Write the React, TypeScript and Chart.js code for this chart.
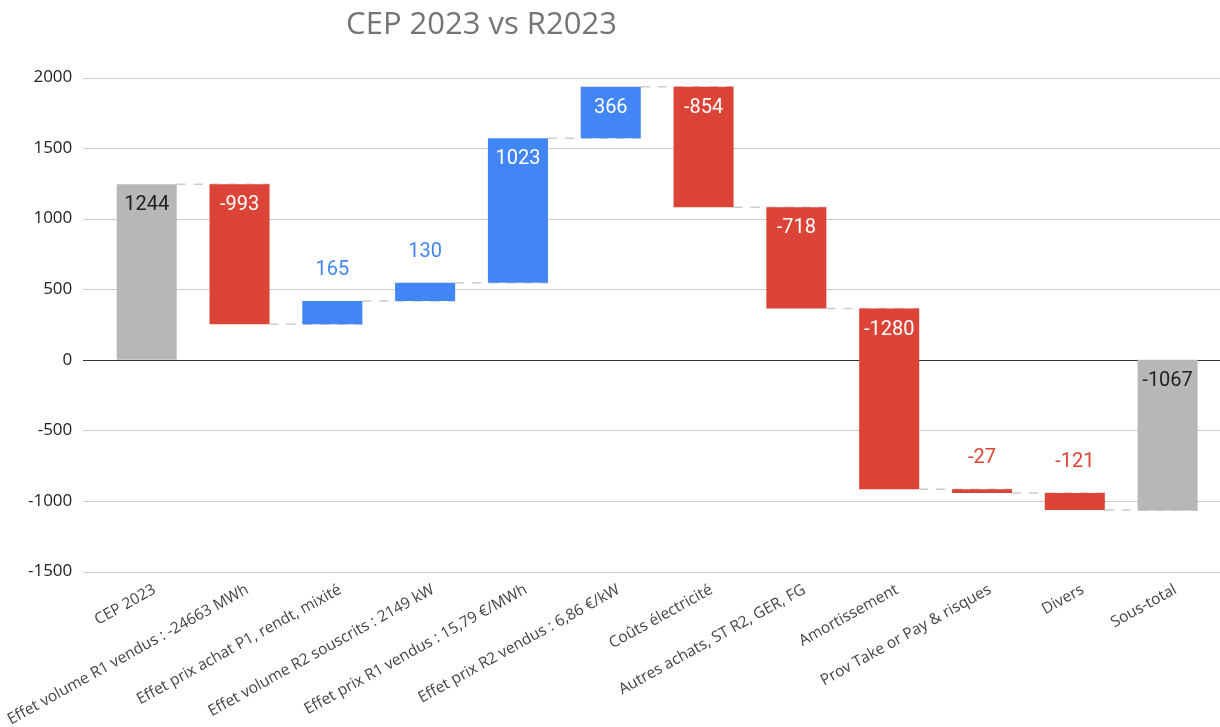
import React, { useEffect, useRef } from "react";
import { Chart, registerables } from "chart.js";

Chart.register(...registerables);

const categories = [
  "CEP 2023",
  "Effet volume R1 vendus : -24663 MWh",
  "Effet prix achat P1, rendt, mixité",
  "Effet volume R2 souscrits : 2149 kW",
  "Effet prix R1 vendus : 15,79 €/MWh",
  "Effet prix R2 vendus : 6,86 €/kW",
  "Coûts électricité",
  "Autres achats, ST R2, GER, FG",
  "Amortissement",
  "Prov Take or Pay & risques",
  "Divers",
  "Sous-total",
];

const changes = [1244, -993, 165, 130, 1023, 366, -854, -718, -1280, -27, -121, -1067];
const isTotal = [true, false, false, false, false, false, false, false, false, false, false, true];

const yTicks = [-1500, -1000, -500, 0, 500, 1000, 1500, 2000];

const TITLE = "CEP 2023 vs R2023";

const GRAY = "#b7b7b7";
const BLUE = "#4285f4";
const RED = "#db4437";

export default function App() {
  const canvasRef = useRef<HTMLCanvasElement | null>(null);

  useEffect(() => {
    const canvas = canvasRef.current;
    if (!canvas) return;

    const ranges: [number, number][] = [];
    let running = 0;
    changes.forEach((v, i) => {
      if (isTotal[i]) {
        ranges.push([0, v]);
        running = v;
      } else {
        ranges.push([running, running + v]);
        running += v;
      }
    });
    const colors = changes.map((v, i) => (isTotal[i] ? GRAY : v >= 0 ? BLUE : RED));

    const gridPlugin = {
      id: "customGrid",
      beforeDatasetsDraw(chart: any) {
        const { ctx } = chart;
        const y = chart.scales.y;
        ctx.save();
        yTicks.forEach((t) => {
          const py = Math.round(y.getPixelForValue(t)) + 0.5;
          ctx.beginPath();
          ctx.strokeStyle = t === 0 ? "#333333" : "#cccccc";
          ctx.lineWidth = 1.2;
          ctx.moveTo(83, py);
          ctx.lineTo(1220, py);
          ctx.stroke();
        });
        const meta = chart.getDatasetMeta(0);
        ctx.setLineDash([9, 8]);
        ctx.strokeStyle = "#cccccc";
        ctx.lineWidth = 1.5;
        for (let i = 0; i < ranges.length - 1; i++) {
          const level = ranges[i][1];
          const bar = meta.data[i];
          const next = meta.data[i + 1];
          const x0 = bar.x + bar.width / 2;
          const x1 = next.x + next.width / 2;
          const py = y.getPixelForValue(level);
          ctx.beginPath();
          ctx.moveTo(x0, py);
          ctx.lineTo(x1, py);
          ctx.stroke();
        }
        ctx.restore();
      },
    };

    const labelPlugin = {
      id: "valueLabels",
      afterDatasetsDraw(chart: any) {
        const { ctx } = chart;
        const meta = chart.getDatasetMeta(0);
        ctx.save();
        ctx.font = "20px Roboto";
        ctx.textAlign = "center";
        ctx.textBaseline = "middle";
        meta.data.forEach((bar: any, i: number) => {
          const top = Math.min(bar.y, bar.base);
          const h = Math.abs(bar.y - bar.base);
          const txt = String(changes[i]);
          if (h > 40) {
            ctx.fillStyle = isTotal[i] ? "#212121" : "#ffffff";
            ctx.fillText(txt, bar.x, top + 21);
          } else {
            ctx.fillStyle = colors[i];
            ctx.fillText(txt, bar.x, top - 31);
          }
        });
        ctx.restore();
      },
      afterDraw(chart: any) {
        const { ctx } = chart;
        ctx.save();
        ctx.font = '31px "Open Sans"';
        ctx.fillStyle = "#757575";
        ctx.textAlign = "center";
        ctx.textBaseline = "middle";
        ctx.fillText(TITLE, 481.5, 25);
        ctx.restore();
      },
    };

    const chart = new Chart(canvas, {
      type: "bar",
      data: {
        labels: categories,
        datasets: [
          {
            data: ranges as any,
            backgroundColor: colors,
            borderWidth: 0,
            barPercentage: 0.647,
            categoryPercentage: 1,
          },
        ],
      },
      options: {
        responsive: false,
        animation: false,
        layout: { padding: { top: 77.5, right: 6, left: 0, bottom: 0 } },
        plugins: {
          legend: { display: false },
          tooltip: { enabled: false },
          title: { display: false },
        },
        scales: {
          x: {
            grid: { display: false, drawTicks: false },
            border: { display: false },
            ticks: {
              autoSkip: false,
              minRotation: 29,
              maxRotation: 29,
              padding: 9,
              labelOffset: 8,
              color: "#444444",
              font: { family: '"Open Sans"', size: 15.5 },
            },
            afterFit(scale: any) {
              scale.height = 155.5;
            },
          },
          y: {
            min: -1500,
            max: 2000,
            grid: { display: false, drawTicks: false },
            border: { display: false },
            ticks: {
              stepSize: 500,
              padding: 28,
              color: "#222222",
              font: { family: '"Open Sans"', size: 17 },
              callback: (v: any) => String(v),
            },
            afterFit(scale: any) {
              scale.width = 100.3;
            },
          },
        },
      },
      plugins: [gridPlugin, labelPlugin],
    });

    return () => chart.destroy();
  }, []);

  return (
    <div style={{ position: "absolute", left: 0, top: 0, width: 1220, height: 727, background: "#fff" }}>
      <canvas ref={canvasRef} width={1220} height={727} style={{ display: "block" }} />
    </div>
  );
}
